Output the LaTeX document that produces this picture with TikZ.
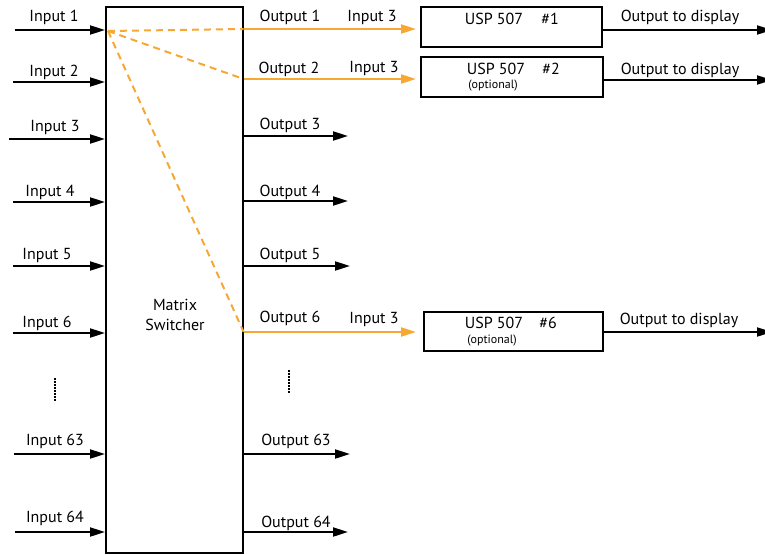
\documentclass[tikz,border=0pt]{standalone}
\usepackage{fontspec}
\setmainfont{PT Sans}
\usetikzlibrary{arrows.meta}
\definecolor{sigor}{HTML}{F7A833}
\tikzset{
  x=1pt, y=-1pt,
  lbl/.style={font=\fontsize{16}{17}\selectfont, inner sep=0pt},
  sml/.style={font=\fontsize{12}{13}\selectfont, inner sep=0pt},
  blk/.style={line width=2pt, -{Triangle[length=15pt,width=9pt]}},
  org/.style={line width=2pt, sigor, -{Triangle[length=15pt,width=9pt]}},
  dsh/.style={line width=2pt, sigor, dash pattern=on 7pt off 5pt},
  box/.style={draw, line width=1.6pt, inner sep=0pt, anchor=north west},
  dots/.style={line width=1.5pt, dash pattern=on 1.5pt off 1.5pt}
}
\begin{document}
\begin{tikzpicture}
\useasboundingbox (0,0) rectangle (765,554);
% matrix switcher
\node[box, minimum width=137pt, minimum height=546pt] (sw) at (105,6) {};
\node[lbl, align=center] (swl) at (175,315) {Matrix\\[3pt]Switcher};
% inputs
\foreach \n/\xs/\y/\lx/\ly in {1/15/30/54/17, 2/13/82/54/72, 3/9/139/55/127, 4/13/202/50/192, 5/13/266/47/255, 6/13/333/47/323, 63/14/454/55/441, 64/15/532/55/518}{
  \coordinate (ins\n) at (\xs,\y);
  \draw[blk] (ins\n) -- (ins\n -| sw.west);
  \node[lbl] (inl\n) at (\lx,\ly) {Input \n};
}
% outputs black
\foreach \n/\xe/\y/\lx/\ly in {3/348/136/290/125, 4/348/201/290/192, 5/350/266/290/255, 63/350/454/296/441, 64/348/532/296/523}{
  \coordinate (oute\n) at (\xe,\y);
  \draw[blk] (oute\n -| sw.east) -- (oute\n);
  \node[lbl] (outl\n) at (\lx,\ly) {Output \n};
}
% USP boxes
\node[box, minimum width=181pt, minimum height=40pt] (u1) at (420,6) {};
\node[lbl] (u1a) at (494,19) {USP 507};
\node[lbl] (u1b) at (550,19) {\#1};
\node[box, minimum width=182pt, minimum height=40pt] (u2) at (420,56) {};
\node[lbl] (u2a) at (496,69) {USP 507};
\node[lbl] (u2b) at (551,69) {\#2};
\node[sml] (u2c) at (493,86) {(optional)};
\node[box, minimum width=179pt, minimum height=39pt] (u6) at (423,311) {};
\node[lbl] (u6a) at (494,323) {USP 507};
\node[lbl] (u6b) at (548,323) {\#6};
\node[sml] (u6c) at (492,341) {(optional)};
% orange outputs
\coordinate (o1) at (416,29);
\coordinate (o2) at (416,79);
\coordinate (o6) at (416,332);
\draw[org] (o1 -| sw.east) -- (o1);
\draw[org] (o2 -| sw.east) -- (o2);
\draw[org] (o6 -| sw.east) -- (o6);
\node[lbl] (ol1) at (290,17) {Output 1};
\node[lbl] (ol2) at (289,69) {Output 2};
\node[lbl] (ol6) at (290,318) {Output 6};
\node[lbl] (il1) at (372,17) {Input 3};
\node[lbl] (il2) at (374,68) {Input 3};
\node[lbl] (il6) at (374,319) {Input 3};
% dashed routes
\coordinate (src) at (108,31);
\draw[dsh] (src) -- (o1 -| sw.east);
\draw[dsh] (src) -- (o2 -| sw.east);
\draw[dsh] (src) -- (o6 -| sw.east);
% output to display
\coordinate (d1) at (772,30);
\coordinate (d2) at (772,80);
\coordinate (d6) at (772,332);
\draw[blk] (u1.east |- d1) -- (d1);
\draw[blk] (u2.east |- d2) -- (d2);
\draw[blk] (u6.east |- d6) -- (d6);
\node[lbl] (dl1) at (680,17) {Output to display};
\node[lbl] (dl2) at (680,70) {Output to display};
\node[lbl] (dl6) at (679,320) {Output to display};
% ellipsis dots
\coordinate (da) at (55,378);
\coordinate (db) at (55,401);
\draw[dots] (da) -- (db);
\coordinate (dc) at (289,370);
\coordinate (dd) at (289,393);
\draw[dots] (dc) -- (dd);
\end{tikzpicture}
\end{document}
